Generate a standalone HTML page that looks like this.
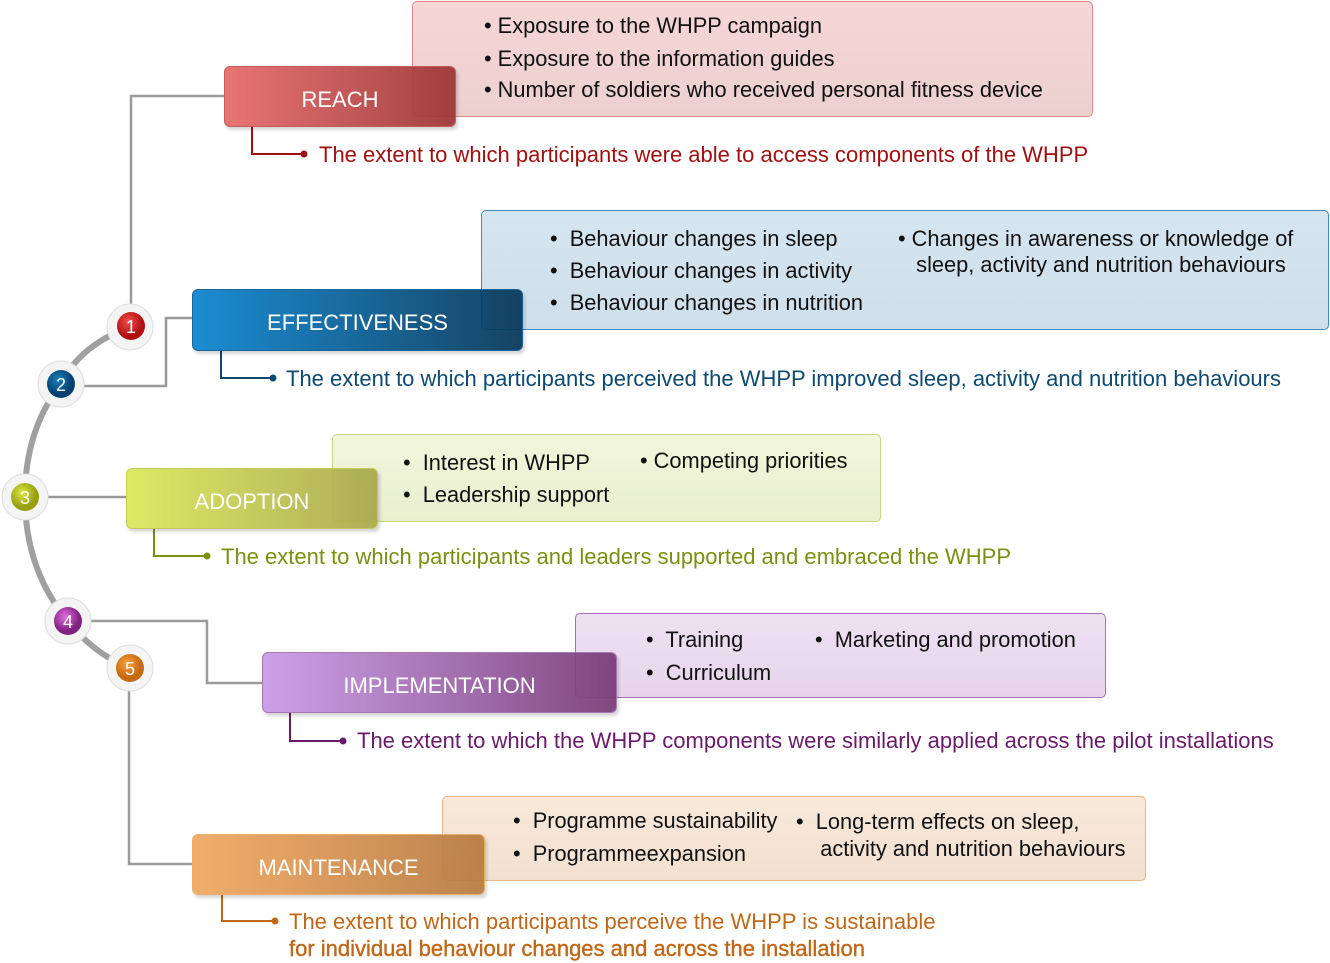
<!DOCTYPE html>
<html><head><meta charset="utf-8"><style>
body{margin:0;width:1330px;height:963px;background:#fff;position:relative;overflow:hidden;font-family:"Liberation Sans",Arial,sans-serif;}
.d{position:absolute;border-radius:5px;border:1.5px solid;box-sizing:border-box;}
.h{position:absolute;border-radius:6px;box-sizing:border-box;color:#fff;font-size:22px;display:flex;align-items:center;justify-content:center;padding-top:6px;box-shadow:2px 3px 3px rgba(0,0,0,0.18);opacity:.93}
.t{position:absolute;font-size:21.8px;white-space:nowrap;color:#111;line-height:22px}
.s{position:absolute;font-size:22px;white-space:nowrap;line-height:27px}
svg{position:absolute;left:0;top:0}
</style></head><body>

<div class="d" style="left:412px;top:1px;width:681px;height:116px;background:linear-gradient(#f6d6d6,#ecd0d0);border-color:#e48888"></div>
<div class="d" style="left:481px;top:210px;width:848px;height:120px;background:linear-gradient(#d6e6f0,#cfdfea);border-color:#3a88bc"></div>
<div class="d" style="left:332px;top:434px;width:549px;height:88px;background:linear-gradient(#f2f6dc,#e9efcf);border-color:#c8d880"></div>
<div class="d" style="left:575px;top:613px;width:531px;height:85px;background:linear-gradient(#efe0f2,#e6d5ea);border-color:#a870b8"></div>
<div class="d" style="left:442px;top:796px;width:704px;height:85px;background:linear-gradient(#f8e9dc,#f2e0cf);border-color:#eab88a"></div>

<svg width="1330" height="963">
<g fill="none" stroke="#9a9a9a" stroke-width="2.5">
<polyline points="131,305 131,96 224,96"/>
<polyline points="83,386 166,386 166,318 192,318"/>
<polyline points="47,497 126,497"/>
<polyline points="90,621 207,621 207,683 262,683"/>
<polyline points="129,690 129,864 192,864"/>
</g>
<path d="M130,327 Q80,345 61,384 Q25,430 25,497 Q25,570 68,621 Q95,655 130,668" fill="none" stroke="#a0a0a0" stroke-width="6"/>
<g stroke-width="2" fill="none">
<polyline points="252,127 252,154 304,154" stroke="#a01010"/>
<polyline points="221,351 221,378 273,378" stroke="#0d4a70"/>
<polyline points="154,529 154,556 207,556" stroke="#7a9010"/>
<polyline points="290,713 290,741 343,741" stroke="#6a1a6a"/>
<polyline points="222,895 222,921 275,921" stroke="#c06818"/>
</g>
<circle cx="304" cy="154" r="3.5" fill="#a01010"/>
<circle cx="273" cy="378" r="3.5" fill="#0d4a70"/>
<circle cx="207" cy="556" r="3.5" fill="#7a9010"/>
<circle cx="343" cy="741" r="3.5" fill="#6a1a6a"/>
<circle cx="275" cy="921" r="3.5" fill="#c06818"/>
<defs>
<radialGradient id="r1" cx=".4" cy=".35"><stop offset="0" stop-color="#f05050"/><stop offset="1" stop-color="#b01010"/></radialGradient>
<radialGradient id="r2" cx=".4" cy=".35"><stop offset="0" stop-color="#1a80c0"/><stop offset="1" stop-color="#064070"/></radialGradient>
<radialGradient id="r3" cx=".4" cy=".35"><stop offset="0" stop-color="#dde840"/><stop offset="1" stop-color="#98a010"/></radialGradient>
<radialGradient id="r4" cx=".4" cy=".35"><stop offset="0" stop-color="#e070e0"/><stop offset="1" stop-color="#802080"/></radialGradient>
<radialGradient id="r5" cx=".4" cy=".35"><stop offset="0" stop-color="#f8a040"/><stop offset="1" stop-color="#c86810"/></radialGradient>
</defs>
<g font-family="Liberation Sans,Arial,sans-serif" font-size="18" fill="#fff" text-anchor="middle">
<circle cx="130" cy="327" r="23" fill="#f4f4f4" stroke="#ddd"/><circle cx="131" cy="326" r="14" fill="url(#r1)"/><text x="131" y="333">1</text>
<circle cx="61" cy="384" r="23" fill="#f4f4f4" stroke="#ddd"/><circle cx="61" cy="384" r="14" fill="url(#r2)"/><text x="61" y="391">2</text>
<circle cx="25" cy="497" r="23" fill="#f4f4f4" stroke="#ddd"/><circle cx="25" cy="497" r="14" fill="url(#r3)"/><text x="25" y="504">3</text>
<circle cx="68" cy="621" r="23" fill="#f4f4f4" stroke="#ddd"/><circle cx="68" cy="621" r="14" fill="url(#r4)"/><text x="68" y="628">4</text>
<circle cx="130" cy="668" r="23" fill="#f4f4f4" stroke="#ddd"/><circle cx="130" cy="668" r="14" fill="url(#r5)"/><text x="130" y="675">5</text>
</g>
</svg>

<div class="h" style="left:224px;top:66px;width:232px;height:61px;background:linear-gradient(90deg,#e86a6a,#9c3434);border:1.5px solid #c05050">REACH</div>
<div class="h" style="left:192px;top:289px;width:331px;height:62px;background:linear-gradient(90deg,#0a84d0,#053658);border:1.5px solid #0a5a90">EFFECTIVENESS</div>
<div class="h" style="left:126px;top:468px;width:252px;height:61px;background:linear-gradient(90deg,#dde85a,#a8a84c);border:1.5px solid #c0c850">ADOPTION</div>
<div class="h" style="left:262px;top:652px;width:355px;height:61px;background:linear-gradient(90deg,#c99ae8,#783a76);border:1.5px solid #a070b0">IMPLEMENTATION</div>
<div class="h" style="left:192px;top:834px;width:293px;height:61px;background:linear-gradient(90deg,#f0a860,#b87a40);border:1.5px solid #e8a868">MAINTENANCE</div>

<div class="t" style="left:484px;top:15px">• Exposure to the WHPP campaign</div>
<div class="t" style="left:484px;top:48px">• Exposure to the information guides</div>
<div class="t" style="left:484px;top:79px">• Number of soldiers who received personal fitness device</div>
<div class="s" style="left:319px;top:141px;color:#a01010">The extent to which participants were able to access components of the WHPP</div>

<div class="t" style="left:550px;top:228px">•&nbsp; Behaviour changes in sleep</div>
<div class="t" style="left:550px;top:260px">•&nbsp; Behaviour changes in activity</div>
<div class="t" style="left:550px;top:292px">•&nbsp; Behaviour changes in nutrition</div>
<div class="t" style="left:898px;top:226px;line-height:26px">• Changes in awareness or knowledge of<br>&nbsp;&nbsp; sleep, activity and nutrition behaviours</div>
<div class="s" style="left:286px;top:365px;color:#0d4a70">The extent to which participants perceived the WHPP improved sleep, activity and nutrition behaviours</div>

<div class="t" style="left:403px;top:452px">•&nbsp; Interest in WHPP</div>
<div class="t" style="left:403px;top:484px">•&nbsp; Leadership support</div>
<div class="t" style="left:640px;top:450px">• Competing priorities</div>
<div class="s" style="left:221px;top:543px;color:#7a9010">The extent to which participants and leaders supported and embraced the WHPP</div>

<div class="t" style="left:646px;top:629px">•&nbsp; Training</div>
<div class="t" style="left:646px;top:662px">•&nbsp; Curriculum</div>
<div class="t" style="left:815px;top:629px">•&nbsp; Marketing and promotion</div>
<div class="s" style="left:357px;top:727px;color:#6a1a6a">The extent to which the WHPP components were similarly applied across the pilot installations</div>

<div class="t" style="left:513px;top:810px">•&nbsp; Programme sustainability</div>
<div class="t" style="left:513px;top:843px">•&nbsp; Programmeexpansion</div>
<div class="t" style="left:796px;top:808px;line-height:27px">•&nbsp; Long-term effects on sleep,<br>&nbsp;&nbsp;&nbsp; activity and nutrition behaviours</div>
<div class="s" style="left:289px;top:908px;color:#c06818">The extent to which participants perceive the WHPP is sustainable<br><b style="font-weight:normal;-webkit-text-stroke:0.4px #c06818">for individual behaviour changes and across the installation</b></div>
</body></html>
